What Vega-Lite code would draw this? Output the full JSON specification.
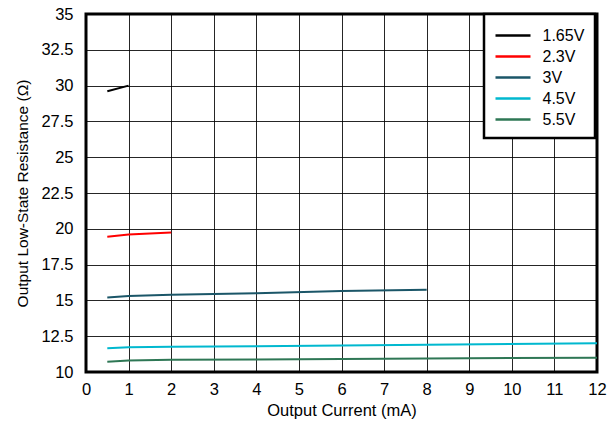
{
  "$schema": "https://vega.github.io/schema/vega-lite/v6.json",
  "width": 511,
  "height": 358,
  "autosize": "none",
  "padding": {"left": 86, "top": 14, "right": 11, "bottom": 51},
  "background": "white",
  "config": {
    "font": "Liberation Sans",
    "view": {"stroke": "black", "strokeWidth": 3}
  },
  "data": {
    "values": [
      {"v": "1.65V", "x": 0.5, "y": 29.6},
      {"v": "1.65V", "x": 1, "y": 30.0},
      {"v": "2.3V", "x": 0.5, "y": 19.45},
      {"v": "2.3V", "x": 1, "y": 19.6},
      {"v": "2.3V", "x": 2, "y": 19.75},
      {"v": "3V", "x": 0.5, "y": 15.2},
      {"v": "3V", "x": 1, "y": 15.3},
      {"v": "3V", "x": 2, "y": 15.4},
      {"v": "3V", "x": 4, "y": 15.5},
      {"v": "3V", "x": 6, "y": 15.65},
      {"v": "3V", "x": 8, "y": 15.75},
      {"v": "4.5V", "x": 0.5, "y": 11.65},
      {"v": "4.5V", "x": 1, "y": 11.72},
      {"v": "4.5V", "x": 2, "y": 11.76},
      {"v": "4.5V", "x": 4, "y": 11.8},
      {"v": "4.5V", "x": 8, "y": 11.9},
      {"v": "4.5V", "x": 12, "y": 12.0},
      {"v": "5.5V", "x": 0.5, "y": 10.72},
      {"v": "5.5V", "x": 1, "y": 10.8},
      {"v": "5.5V", "x": 2, "y": 10.85},
      {"v": "5.5V", "x": 4, "y": 10.88},
      {"v": "5.5V", "x": 8, "y": 10.95},
      {"v": "5.5V", "x": 12, "y": 11.0}
    ]
  },
  "mark": {"type": "line", "strokeWidth": 2, "clip": true},
  "encoding": {
    "x": {
      "field": "x", "type": "quantitative",
      "scale": {"domain": [0, 12], "nice": false, "zero": false},
      "axis": {
        "title": "Output Current (mA)",
        "values": [0,1,2,3,4,5,6,7,8,9,10,11,12],
        "format": "d",
        "grid": true, "gridColor": "black", "gridOpacity": 0.85, "gridWidth": 1,
        "domain": false, "ticks": false,
        "labelFontSize": 16.5, "labelColor": "black", "labelPadding": 9, "labelFlush": false,
        "titleFontSize": 16.5, "titleFontWeight": "normal", "titleColor": "black", "titlePadding": 5
      }
    },
    "y": {
      "field": "y", "type": "quantitative",
      "scale": {"domain": [10, 35], "nice": false, "zero": false},
      "axis": {
        "title": "Output Low-State Resistance (Ω)",
        "values": [10, 12.5, 15, 17.5, 20, 22.5, 25, 27.5, 30, 32.5, 35],
        "format": ".1~f",
        "grid": true, "gridColor": "black", "gridOpacity": 0.85, "gridWidth": 1,
        "domain": false, "ticks": false,
        "labelFontSize": 16.5, "labelColor": "black", "labelPadding": 13, "labelFlush": false,
        "titleFontSize": 15.5, "titleFontWeight": "normal", "titleColor": "black", "titlePadding": 10
      }
    },
    "color": {
      "field": "v", "type": "nominal",
      "scale": {
        "domain": ["1.65V", "2.3V", "3V", "4.5V", "5.5V"],
        "range": ["#000000", "#FF0000", "#1B5668", "#00B8CF", "#2E7755"]
      },
      "legend": {
        "title": null,
        "orient": "none",
        "legendX": 398,
        "legendY": 0,
        "fillColor": "white",
        "strokeColor": "black",
        "padding": 10,
        "symbolType": "M-1.75,0H1.75",
        "symbolStrokeWidth": 2.5,
        "symbolSize": 400,
        "symbolOffset": 7.5,
        "labelFontSize": 16,
        "labelColor": "black",
        "labelOffset": 18,
        "rowPadding": 1,
        "labelLimit": 200,
        "encode": {"legend": {"update": {"strokeWidth": {"value": 2.5}}}}
      }
    }
  }
}
